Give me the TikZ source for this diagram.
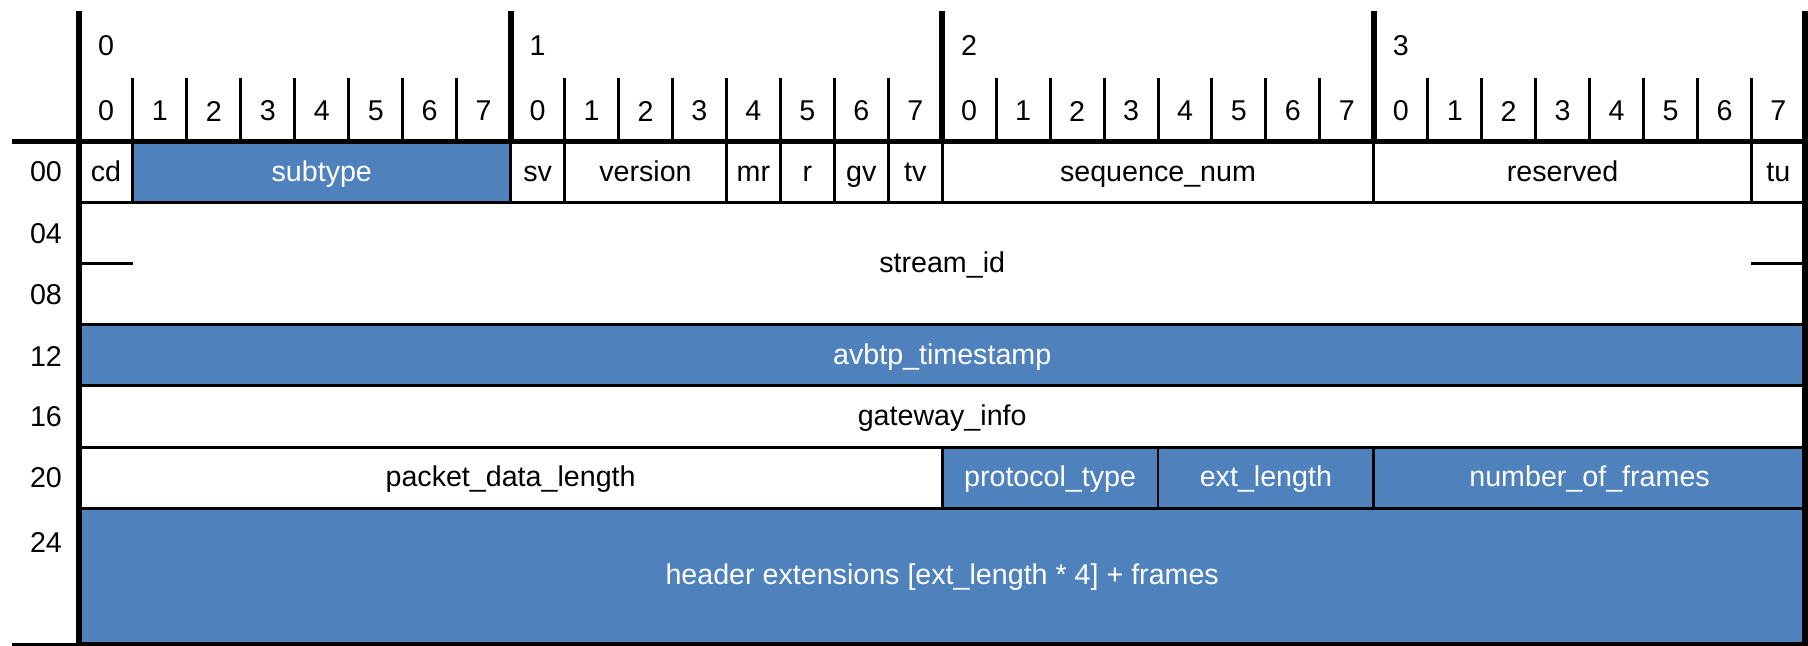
\documentclass[tikz,border=0pt]{standalone}
\usepackage{fontspec}
\setmainfont{Liberation Sans}
\usetikzlibrary{positioning}
\definecolor{avtpBlue}{HTML}{4F81BD}

\begin{document}
\begin{tikzpicture}[x=0.1mm, y=-0.1mm,
    every node/.style={font=\fontsize{8.15}{9.8}\selectfont, inner sep=0pt, outer sep=0pt},
    field/.style={draw, line width=0.85pt, minimum width=#1*5.395mm,
                  minimum height=6.12mm, text height=0.72em, text depth=0.2em},
    blue/.style={fill=avtpBlue, text=white},
    thin rule/.style={line width=0.85pt},
    thick rule/.style={line width=1.7pt},
  ]
  \useasboundingbox (0,0) rectangle (1808,646);

  % Header: byte and bit numbers
  \foreach \k in {0,...,3}
    \node (byte\k) at ({79+(8*\k+0.5)*53.95},46) {\k};
  \foreach \b [evaluate=\b as \n using {int(mod(\b,8))}] in {0,...,31}
    \node (bit\b) at ({79+(\b+0.5)*53.95},111) {\n};
  \foreach \b in {1,...,31}
    \draw[thin rule] ({79+\b*53.95},78) -- ({79+\b*53.95},141.5);

  % Row 00
  \node[field=1, anchor=north west] (cd) at (79,141.5) {cd};
  \node[field=7, blue, right=0pt of cd] (subtype) {subtype};
  \node[field=1, right=0pt of subtype] (sv) {sv};
  \node[field=3, right=0pt of sv] (version) {version};
  \node[field=1, right=0pt of version] (mr) {mr};
  \node[field=1, right=0pt of mr] (r) {r};
  \node[field=1, right=0pt of r] (gv) {gv};
  \node[field=1, right=0pt of gv] (tv) {tv};
  \node[field=8, right=0pt of tv] (seqnum) {sequence\_num};
  \node[field=7, right=0pt of seqnum] (reserved) {reserved};
  \node[field=1, right=0pt of reserved] (tu) {tu};

  % Rows 04 to 24
  \node[field=32, minimum height=12.2mm, below=0pt of cd.south west, anchor=north west]
    (streamid) {stream\_id};
  \draw[thin rule] (streamid.west) -- ++(53.95,0);
  \draw[thin rule] (streamid.east) -- ++(-53.95,0);
  \node[field=32, blue, below=0pt of streamid.south west, anchor=north west]
    (timestamp) {avbtp\_timestamp};
  \node[field=32, below=0pt of timestamp.south west, anchor=north west]
    (gateway) {gateway\_info};
  \node[field=16, below=0pt of gateway.south west, anchor=north west]
    (pktlen) {packet\_data\_length};
  \node[field=4, blue, right=0pt of pktlen] (prototype) {protocol\_type};
  \node[field=4, blue, right=0pt of prototype] (extlen) {ext\_length};
  \node[field=8, blue, right=0pt of extlen] (nframes) {number\_of\_frames};
  \node[field=32, blue, minimum height=13.5mm, below=0pt of pktlen.south west, anchor=north west]
    (hdrext) {header extensions [ext\_length * 4] + frames};

  % Row offsets
  \node (r00) at (46,172) {00};
  \node (r04) at (46,233.5) {04};
  \node (r08) at (46,294.5) {08};
  \node (r12) at (46,356) {12};
  \node (r16) at (46,417) {16};
  \node (r20) at (46,478) {20};
  \node (r24) at (46,542) {24};

  % Frame lines
  \draw[thick rule] (12,141.5) -- (1808,141.5);
  \draw[thin rule] (12,644) -- (1808,644);
  \draw[thick rule] (79,11) -- (79,644);
  \draw[thick rule] (1805.4,11) -- (1805.4,644);
  \foreach \k in {1,2,3}
    \draw[thick rule] ({79+8*\k*53.95},11) -- ({79+8*\k*53.95},141.5);
\end{tikzpicture}
\end{document}
